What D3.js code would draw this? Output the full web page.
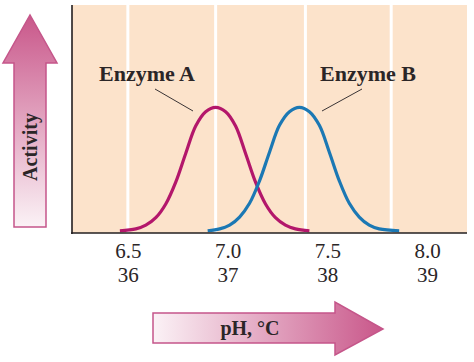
<!DOCTYPE html>
<html>
<head>
<meta charset="utf-8">
<script src="https://cdn.jsdelivr.net/npm/d3@7"></script>
<style>
  body { margin: 0; background: #fff; }
  svg { display: block; font-family: "Liberation Serif", "Times New Roman", serif; }
</style>
</head>
<body>
<svg id="chart" width="474" height="362"></svg>
<script>
// tick labels: pH on first row, temperature under it
var phTicks = [6.5, 7.0, 7.5, 8.0];
var tempTicks = ['36', '37', '38', '39'];
// white stripes in the background (pH positions)
var stripes = [6.5, 6.94, 7.39, 7.82];

// activity, [pH, relative activity]
var enzymeA = [
    [6.46, 0.01], [6.54, 0.025], [6.59, 0.055], [6.64, 0.115], [6.69, 0.225],
    [6.74, 0.40], [6.79, 0.63], [6.84, 0.85], [6.89, 0.965], [6.94, 1.0],
    [6.99, 0.965], [7.04, 0.85], [7.09, 0.63], [7.14, 0.40], [7.19, 0.225],
    [7.24, 0.115], [7.29, 0.055], [7.34, 0.025], [7.41, 0.01]
];
var enzymeB = [
    [6.90, 0.01], [6.96, 0.025], [7.01, 0.055], [7.06, 0.12], [7.11, 0.23],
    [7.16, 0.41], [7.21, 0.64], [7.26, 0.855], [7.31, 0.965], [7.36, 1.0],
    [7.41, 0.965], [7.46, 0.855], [7.51, 0.64], [7.56, 0.41], [7.61, 0.23],
    [7.66, 0.12], [7.71, 0.055], [7.76, 0.025], [7.86, 0.01]
];
var labels = ['Enzyme A', 'Enzyme B'];

var svg = d3.select('#chart');
var plotLeft = 72, plotRight = 467, plotTop = 5, plotBottom = 233;

var xScale = d3.scaleLinear()
    .domain([6.22, 8.2])
    .range([plotLeft, plotRight]);
var yScale = d3.scaleLinear()
    .domain([0, 1.82])
    .range([232, plotTop]);

// gradients for the two arrows
var defs = svg.append('defs');
var gUp = defs.append('linearGradient').attr('id', 'gradUp')
    .attr('x1', 0).attr('y1', 1).attr('x2', 0).attr('y2', 0);
gUp.append('stop').attr('offset', '0%').attr('stop-color', '#fbf2f6');
gUp.append('stop').attr('offset', '100%').attr('stop-color', '#c9578a');
var gRight = defs.append('linearGradient').attr('id', 'gradRight')
    .attr('x1', 0).attr('y1', 0).attr('x2', 1).attr('y2', 0);
gRight.append('stop').attr('offset', '0%').attr('stop-color', '#fbf2f6');
gRight.append('stop').attr('offset', '100%').attr('stop-color', '#c9578a');

// plot background
svg.append('rect')
    .attr('x', plotLeft).attr('y', plotTop)
    .attr('width', plotRight - plotLeft).attr('height', plotBottom - plotTop)
    .attr('fill', '#fce3cb');

svg.append('g').selectAll('line')
    .data(stripes)
    .enter().append('line')
    .attr('x1', d => xScale(d)).attr('x2', d => xScale(d))
    .attr('y1', plotTop).attr('y2', plotBottom)
    .attr('stroke', '#fff')
    .attr('stroke-width', 3);

// curves
var line = d3.line()
    .x(d => xScale(d[0]))
    .y(d => yScale(d[1]))
    .curve(d3.curveCatmullRom);

[enzymeA, enzymeB].forEach(function (data, i) {
    svg.append('path')
        .datum(data)
        .attr('d', line)
        .attr('fill', 'none')
        .attr('stroke', i === 0 ? '#b3176b' : '#1b78b4')
        .attr('stroke-width', 3.2);
});

// axes
svg.append('line')
    .attr('x1', plotLeft).attr('x2', plotLeft)
    .attr('y1', plotTop).attr('y2', plotBottom + 1)
    .attr('stroke', '#231f20').attr('stroke-width', 1.6);

var xAxis = svg.append('g')
    .attr('transform', `translate(0,${plotBottom})`)
    .call(d3.axisBottom(xScale)
        .tickValues(phTicks)
        .tickSize(0)
        .tickPadding(10)
        .tickFormat(d3.format('.1f')));
xAxis.select('.domain').remove();
xAxis.selectAll('text')
    .attr('dy', null)
    .attr('y', 25)
    .style('font-family', '"Liberation Serif", serif')
    .style('font-size', '21px')
    .attr('fill', '#2b2627');
xAxis.selectAll('.tick').append('text')
    .attr('y', 49)
    .attr('text-anchor', 'middle')
    .style('font-family', '"Liberation Serif", serif')
    .style('font-size', '21px')
    .attr('fill', '#2b2627')
    .text((d, i) => tempTicks[i]);
svg.append('line')
    .attr('x1', plotLeft - 1).attr('x2', plotRight)
    .attr('y1', plotBottom).attr('y2', plotBottom)
    .attr('stroke', '#231f20').attr('stroke-width', 1.6);

// labels with leader lines
var labelPos = [
    { x: 147, y: 81, x1: 155, y1: 89, x2: 193, y2: 111 },
    { x: 368, y: 81, x1: 362, y1: 89, x2: 322, y2: 111 }
];
labels.forEach(function (t, i) {
    var p = labelPos[i];
    svg.append('text')
        .attr('x', p.x).attr('y', p.y)
        .attr('text-anchor', 'middle')
        .style('font-size', '22px')
        .style('font-weight', 'bold')
        .attr('fill', '#2b2627')
        .text(t);
    svg.append('line')
        .attr('x1', p.x1).attr('y1', p.y1)
        .attr('x2', p.x2).attr('y2', p.y2)
        .attr('stroke', '#3a3435').attr('stroke-width', 1);
});

// Activity arrow
svg.append('path')
    .attr('d', 'M14,227 L14,63 L3,63 L30,15 L57,63 L46,63 L46,227 Z')
    .attr('fill', 'url(#gradUp)')
    .attr('stroke', '#c5568a').attr('stroke-width', 1.5);
svg.append('text')
    .attr('transform', 'translate(37,147) rotate(-90)')
    .attr('text-anchor', 'middle')
    .style('font-size', '20px')
    .style('font-weight', 'bold')
    .attr('fill', '#2b2627')
    .text('Activity');

// pH arrow
svg.append('path')
    .attr('d', 'M153,313 L335,313 L335,302 L383,329 L335,355 L335,343 L153,343 Z')
    .attr('fill', 'url(#gradRight)')
    .attr('stroke', '#c5568a').attr('stroke-width', 1.5);
svg.append('text')
    .attr('x', 250).attr('y', 335)
    .attr('text-anchor', 'middle')
    .style('font-size', '20px')
    .style('font-weight', 'bold')
    .attr('fill', '#2b2627')
    .text('pH, °C');
</script>
</body>
</html>
